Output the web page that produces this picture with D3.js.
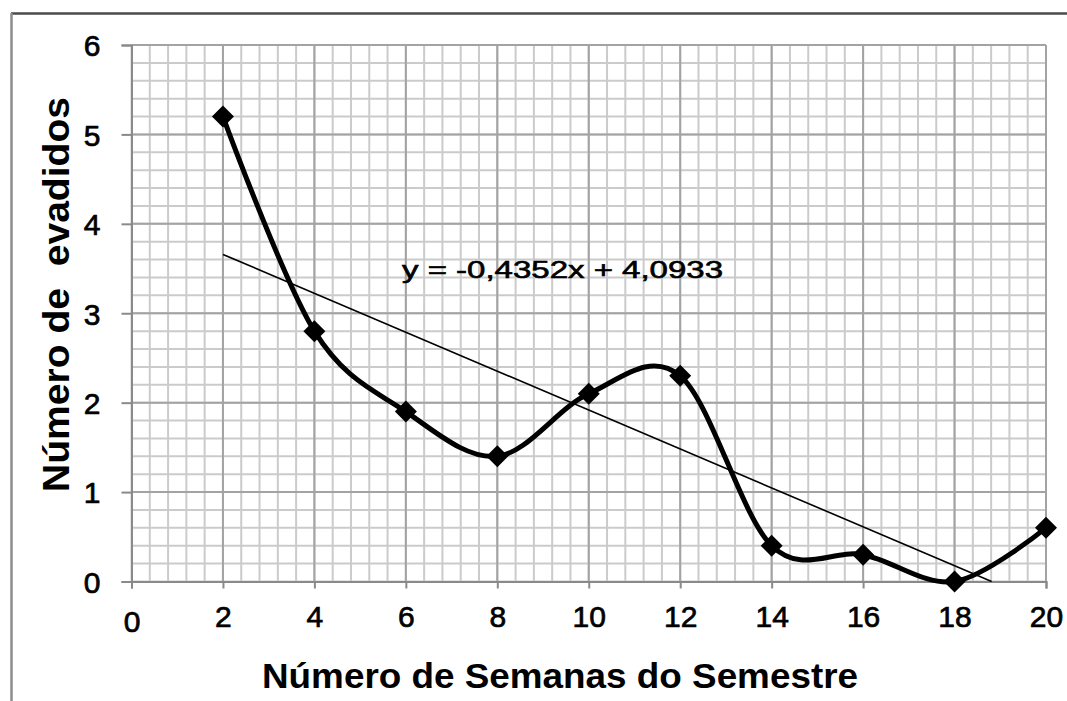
<!DOCTYPE html>
<html>
<head>
<meta charset="utf-8">
<script src="https://cdn.jsdelivr.net/npm/d3@7"></script>
<style>
  html, body { margin: 0; padding: 0; background: #fff; }
  svg { display: block; font-family: "Liberation Sans", Arial, sans-serif; }
</style>
</head>
<body>
<svg id="chart" width="1067" height="701"></svg>
<script>
// Weekly dropout counts over the semester
const weeks = [2, 4, 6, 8, 10, 12, 14, 16, 18, 20];
const dropouts = [5.2, 2.8, 1.9, 1.4, 2.1, 2.3, 0.4, 0.3, 0.0, 0.6];
const xTicks = [0, 2, 4, 6, 8, 10, 12, 14, 16, 18, 20];
const yTicks = [0, 1, 2, 3, 4, 5, 6];
// Linear trend fitted on the category index (1..n)
const trendSlope = -0.4352;
const trendIntercept = 4.0933;
const trendLabel = "y = -0,4352x + 4,0933";
const xTitle = "Número de Semanas do Semestre";
const yTitle = "Número de  evadidos";

const svg = d3.select("#chart");

const x = d3.scaleLinear().domain([0, 20]).range([131.5, 1046]);
const y = d3.scaleLinear().domain([0, 6]).range([581.5, 45]);

// Outer frame (top and left edges)
svg.append("line").attr("x1", 11).attr("x2", 1067).attr("y1", 13.5).attr("y2", 13.5)
  .attr("stroke", "#4a4a4a").attr("stroke-width", 2.5);
svg.append("line").attr("x1", 11.5).attr("x2", 11.5).attr("y1", 13).attr("y2", 701)
  .attr("stroke", "#8c8c8c").attr("stroke-width", 2.5);

const grid = svg.append("g");
const minorX = d3.range(0, 51).map(i => i * 0.4);
const minorY = d3.range(0, 31).map(i => i * 0.2);

grid.selectAll(".mx").data(minorX).join("line")
  .attr("x1", d => x(d)).attr("x2", d => x(d))
  .attr("y1", y(6)).attr("y2", y(0))
  .attr("stroke", "#cbcbcb").attr("stroke-width", 2);
grid.selectAll(".my").data(minorY).join("line")
  .attr("x1", x(0)).attr("x2", x(20))
  .attr("y1", d => y(d)).attr("y2", d => y(d))
  .attr("stroke", "#cbcbcb").attr("stroke-width", 2);

grid.selectAll(".Mx").data(xTicks.slice(1)).join("line")
  .attr("x1", d => x(d)).attr("x2", d => x(d))
  .attr("y1", y(6)).attr("y2", y(0))
  .attr("stroke", "#a3a3a3").attr("stroke-width", 2);
grid.selectAll(".My").data(yTicks.slice(1)).join("line")
  .attr("x1", x(0)).attr("x2", x(20))
  .attr("y1", d => y(d)).attr("y2", d => y(d))
  .attr("stroke", "#a3a3a3").attr("stroke-width", 2);

// Axes
const xAxis = svg.append("g").attr("transform", `translate(0,${y(0)})`)
  .call(d3.axisBottom(x).tickValues(xTicks).tickSize(7).tickFormat(d3.format("d")));
const yAxis = svg.append("g").attr("transform", `translate(${x(0)},0)`)
  .call(d3.axisLeft(y).tickValues(yTicks).tickSize(10).tickPadding(21).tickFormat(d3.format("d")));

[xAxis, yAxis].forEach(a => {
  a.select(".domain").attr("stroke", "#8a8a8a").attr("stroke-width", 2);
  a.selectAll(".tick line").attr("stroke", "#8a8a8a").attr("stroke-width", 2);
  a.selectAll("text").attr("font-family", "Liberation Sans, Arial, sans-serif")
    .attr("font-size", 30).attr("fill", "#000")
    .attr("stroke", "#000").attr("stroke-width", 0.7);
});
xAxis.selectAll("text").attr("dy", null).attr("y", d => d === 0 ? 50 : 45.5);
yAxis.selectAll("text").attr("dy", "0.36em");

// Trend line, clipped at the bottom of the plot
const trendAt = xv => trendSlope * (xv / 2) + trendIntercept;
const xEnd = Math.min(20, 2 * (-trendIntercept / trendSlope));
svg.append("line")
  .attr("x1", x(2)).attr("y1", y(trendAt(2)))
  .attr("x2", x(xEnd)).attr("y2", y(trendAt(xEnd)))
  .attr("stroke", "#000").attr("stroke-width", 1.6);

// Smoothed series line
const pts = weeks.map((w, i) => [w, dropouts[i]]);
svg.append("path")
  .datum(pts)
  .attr("d", d3.line().x(d => x(d[0])).y(d => y(d[1])).curve(d3.curveCardinal.tension(0)))
  .attr("fill", "none").attr("stroke", "#000").attr("stroke-width", 5)
  .attr("stroke-linejoin", "round");

// Diamond markers
svg.selectAll(".pt").data(pts).join("path")
  .attr("transform", d => `translate(${x(d[0])},${y(d[1])})`)
  .attr("d", "M0,-11L11,0L0,11L-11,0Z")
  .attr("fill", "#000");

// Trend equation
svg.append("text")
  .attr("x", 402).attr("y", 277.5)
  .attr("font-size", 23)
  .attr("textLength", 321).attr("lengthAdjust", "spacingAndGlyphs")
  .attr("fill", "#000").attr("stroke", "#000").attr("stroke-width", 0.6)
  .text(trendLabel);

// Axis titles
svg.append("text")
  .attr("x", 262).attr("y", 688)
  .attr("font-size", 35).attr("font-weight", "bold")
  .attr("textLength", 596).attr("lengthAdjust", "spacingAndGlyphs")
  .text(xTitle);

svg.append("text")
  .attr("transform", "translate(69,492) rotate(-90)")
  .attr("x", 0).attr("y", 0)
  .attr("font-size", 36).attr("font-weight", "bold")
  .attr("textLength", 395).attr("lengthAdjust", "spacingAndGlyphs")
  .style("white-space", "pre")
  .text(yTitle);
</script>
</body>
</html>
